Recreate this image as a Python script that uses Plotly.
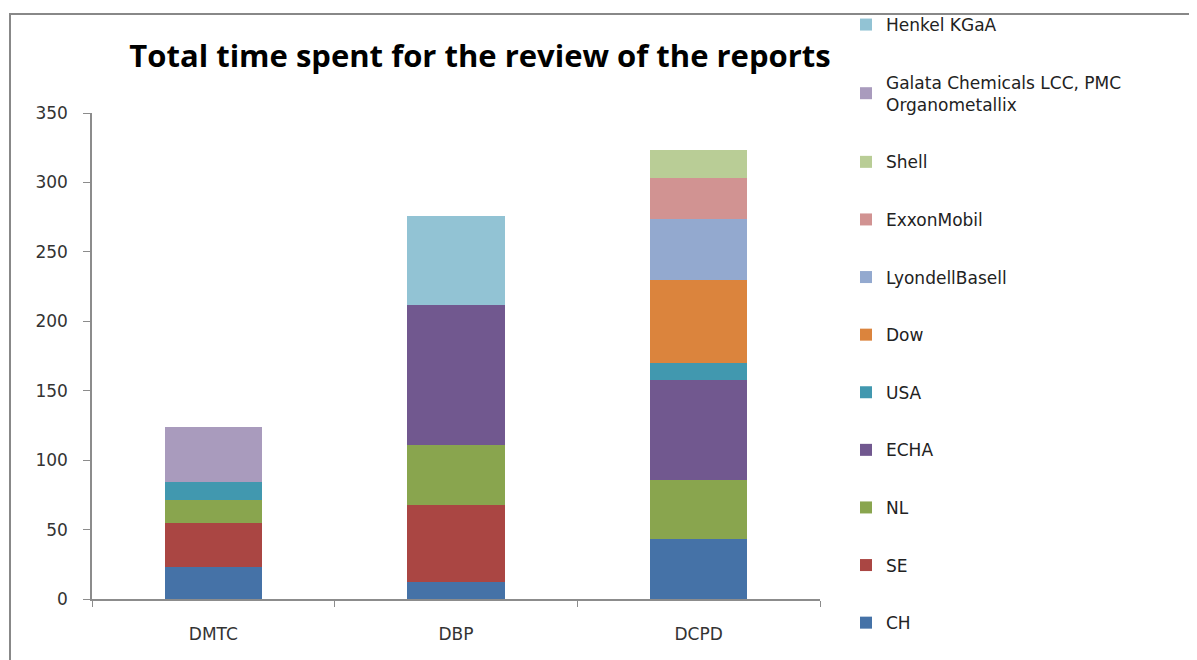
import plotly.graph_objects as go

categories = ["DMTC", "DBP", "DCPD"]

series_names = ["CH", "SE", "NL", "ECHA", "USA", "Dow", "LyondellBasell",
                "ExxonMobil", "Shell", "Galata Chemicals LCC, PMC<br>Organometallix", "Henkel KGaA"]

CH = [23, 12, 43]
SE = [32, 56, 0]
NL = [16, 43, 43]
ECHA = [0, 101, 72]
USA = [13, 0, 12]
Dow = [0, 0, 60]
LyondellBasell = [0, 0, 44]
ExxonMobil = [0, 0, 29]
Shell = [0, 0, 20]
Galata = [40, 0, 0]
Henkel = [0, 64, 0]

series_values = [CH, SE, NL, ECHA, USA, Dow, LyondellBasell, ExxonMobil, Shell, Galata, Henkel]
colors = ["#4572A7", "#AA4643", "#89A54E", "#71588F", "#4198AF", "#DB843D",
          "#93A9CF", "#D19392", "#B9CD96", "#A99BBD", "#92C3D4"]

y_tickvals = [0, 50, 100, 150, 200, 250, 300, 350]

fig = go.Figure()
for i, (name, vals, col) in enumerate(zip(series_names, series_values, colors)):
    fig.add_trace(go.Bar(
        x=categories, y=vals, name=name, marker_color=col,
        marker_line_width=0, legendgroup=f"g{i}", legendrank=1000 - i,
    ))

# page body has an 8px margin, so coordinates below are screen minus 8
W, H = 1189, 652
L, R, T, B = 84, 812, 105, 591
pw, ph = R - L, B - T

FONT = "DejaVu Sans"

fig.update_layout(
    barmode="stack",
    bargap=0.6,
    width=W, height=H,
    margin=dict(l=L, r=W - R, t=T, b=H - B, autoexpand=False),
    paper_bgcolor="white",
    plot_bgcolor="white",
    font=dict(family=FONT, color="#222222"),
    title=dict(text="<b>Total time spent for the review of the reports</b>",
               x=472 / W, xanchor="center", y=1 - 48 / H, yanchor="middle",
               font=dict(size=31, color="#000000", family="Open Sans")),
    legend=dict(
        traceorder="grouped",
        tracegroupgap=32.5,
        x=(838 - L) / pw, xanchor="left",
        y=(B + 1) / ph, yanchor="top",
        font=dict(size=17, color="#222222", family=FONT),
        itemwidth=30,
        maxheight=900,
        bgcolor="rgba(0,0,0,0)",
    ),
    xaxis=dict(
        showline=True, linecolor="#8c8c8c", linewidth=1.5,
        ticks="outside", ticklen=6, tickcolor="#8c8c8c", tickson="boundaries",
        tickfont=dict(size=17, color="#333333", family=FONT),
        ticklabelstandoff=19,
        showgrid=False,
    ),
    yaxis=dict(
        range=[0, 350], tickvals=y_tickvals,
        showline=True, linecolor="#8c8c8c", linewidth=1.5,
        ticks="outside", ticklen=7, tickcolor="#8c8c8c",
        tickfont=dict(size=17, color="#333333", family=FONT),
        ticklabelstandoff=12,
        showgrid=False, zeroline=False,
    ),
)

# outer chart frame
fig.add_shape(type="rect", xref="paper", yref="paper",
              x0=(2 - L) / pw, x1=(1215 - L) / pw,
              y0=(B - 700) / ph, y1=(B - 6) / ph,
              line=dict(color="#888888", width=2), fillcolor="rgba(0,0,0,0)", layer="below")

fig.write_html("out.html")
